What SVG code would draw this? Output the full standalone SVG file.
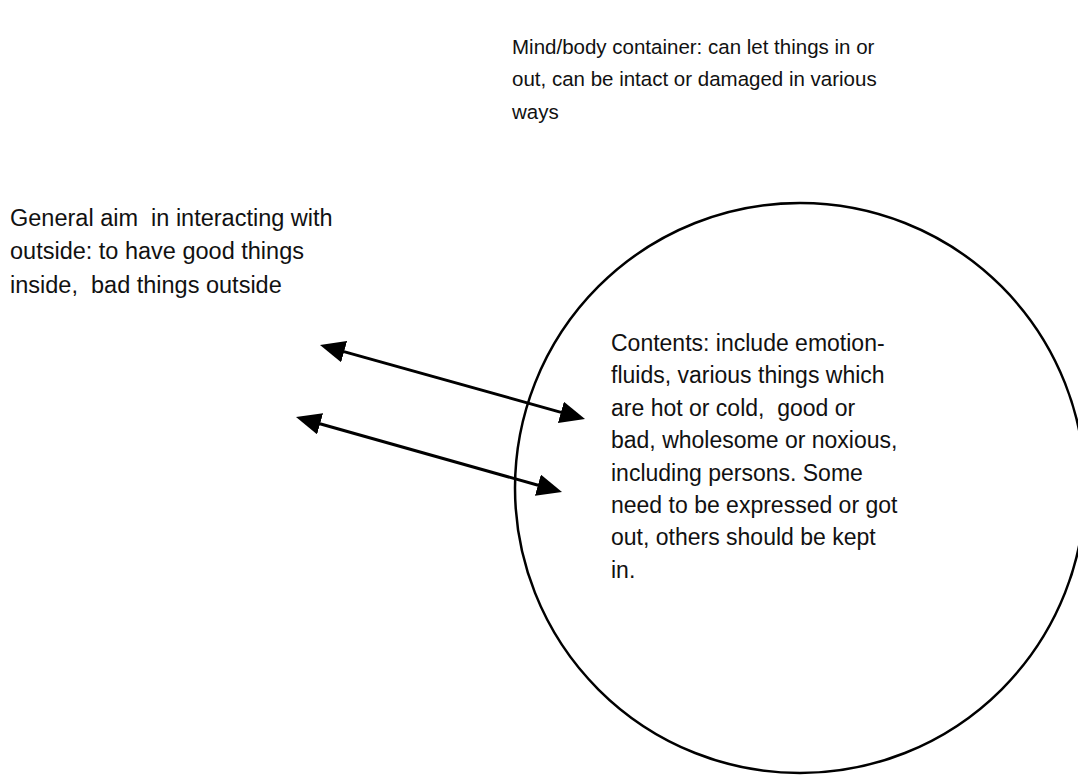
<svg xmlns="http://www.w3.org/2000/svg" width="1078" height="776" viewBox="0 0 1078 776">
  <defs>
    <style>
      .t { font-family: "Liberation Sans", Arial, Helvetica, sans-serif; fill: #111; }
      .top { font-size: 20.5px; }
      .left { font-size: 23.5px; }
      .in { font-size: 23px; }
      .conn { stroke: #000; stroke-width: 3; fill: none; }
    </style>
    <marker id="ah" markerUnits="userSpaceOnUse" markerWidth="26" markerHeight="22" viewBox="0 0 26 22" refX="3" refY="11" orient="auto-start-reverse">
      <path d="M0,0 L25,11 L0,22 z" fill="#000"/>
    </marker>
  </defs>
  <rect width="1078" height="776" fill="#fff"/>

  <g id="container">
    <circle cx="800" cy="488" r="285" fill="none" stroke="#000" stroke-width="2.5"/>
  </g>

  <g id="container-label">
    <text class="t top" x="512" y="53.5">Mind/body container: can let things in or</text>
    <text class="t top" x="512" y="86">out, can be intact or damaged in various</text>
    <text class="t top" x="512" y="118.5">ways</text>
  </g>

  <g id="aim-label">
    <text class="t left" x="10" y="225.5" xml:space="preserve">General aim  in interacting with</text>
    <text class="t left" x="10" y="259">outside: to have good things</text>
    <text class="t left" x="10" y="292.5" xml:space="preserve">inside,  bad things outside</text>
  </g>

  <g id="contents">
    <text class="t in" x="611" y="351">Contents: include emotion-</text>
    <text class="t in" x="611" y="383.4">fluids, various things which</text>
    <text class="t in" x="611" y="415.8" xml:space="preserve">are hot or cold,  good or</text>
    <text class="t in" x="611" y="448.2">bad, wholesome or noxious,</text>
    <text class="t in" x="611" y="480.6">including persons. Some</text>
    <text class="t in" x="611" y="513">need to be expressed or got</text>
    <text class="t in" x="611" y="545.4">out, others should be kept</text>
    <text class="t in" x="611" y="577.8">in.</text>
  </g>

  <g id="connectors">
    <line class="conn" x1="341.2" y1="350.9" x2="563.8" y2="413.1" marker-start="url(#ah)" marker-end="url(#ah)"/>
    <line class="conn" x1="317.2" y1="423.0" x2="540.8" y2="486.0" marker-start="url(#ah)" marker-end="url(#ah)"/>
  </g>
</svg>
